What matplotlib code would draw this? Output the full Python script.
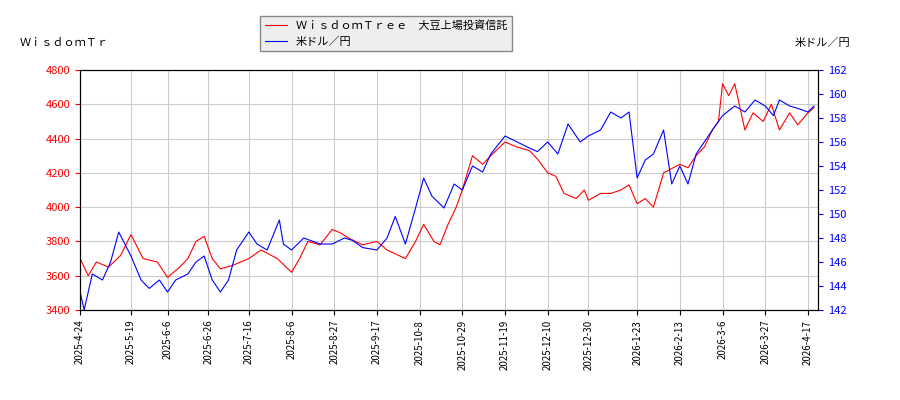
import matplotlib
matplotlib.use("Agg")
import matplotlib.pyplot as plt
import matplotlib.dates as mdates
import pandas as pd

plt.rcParams["font.family"] = ["Noto Sans CJK JP", "DejaVu Sans"]

etf_dates = ["2025-04-24", "2025-04-28", "2025-05-02", "2025-05-08", "2025-05-14", "2025-05-19",
             "2025-05-25", "2025-06-01", "2025-06-06", "2025-06-12", "2025-06-16", "2025-06-20",
             "2025-06-24", "2025-06-28", "2025-07-02", "2025-07-08", "2025-07-16", "2025-07-22",
             "2025-07-30", "2025-08-06", "2025-08-10", "2025-08-14", "2025-08-20", "2025-08-26",
             "2025-08-30", "2025-09-03", "2025-09-10", "2025-09-17", "2025-09-22", "2025-10-01",
             "2025-10-06", "2025-10-10", "2025-10-15", "2025-10-18", "2025-10-22", "2025-10-26",
             "2025-10-29", "2025-11-03", "2025-11-08", "2025-11-12", "2025-11-19", "2025-11-25",
             "2025-12-01", "2025-12-05", "2025-12-10", "2025-12-14", "2025-12-18", "2025-12-24",
             "2025-12-28", "2025-12-30", "2026-01-05", "2026-01-10", "2026-01-15", "2026-01-19",
             "2026-01-23", "2026-01-27", "2026-01-31", "2026-02-05", "2026-02-13", "2026-02-17",
             "2026-02-21", "2026-02-25", "2026-03-01", "2026-03-04", "2026-03-06", "2026-03-09",
             "2026-03-12", "2026-03-17", "2026-03-21", "2026-03-26", "2026-03-30", "2026-04-03",
             "2026-04-08", "2026-04-12", "2026-04-17", "2026-04-20"]
etf_values = [3700, 3600, 3680, 3650, 3720, 3840, 3700, 3680, 3590, 3650, 3700, 3800,
              3830, 3700, 3640, 3660, 3700, 3750, 3700, 3620, 3700, 3800, 3780, 3870,
              3850, 3820, 3780, 3800, 3750, 3700, 3800, 3900, 3800, 3780, 3900, 4000,
              4100, 4300, 4250, 4300, 4380, 4350, 4330, 4280, 4200, 4180, 4080, 4050,
              4100, 4040, 4080, 4080, 4100, 4130, 4020, 4050, 4000, 4200, 4250, 4230,
              4300, 4350, 4450, 4500, 4720, 4650, 4720, 4450, 4550, 4500, 4600, 4450,
              4550, 4480, 4550, 4580]

usd_dates = ["2025-04-24", "2025-04-26", "2025-04-30", "2025-05-05", "2025-05-09", "2025-05-13",
             "2025-05-19", "2025-05-24", "2025-05-28", "2025-06-02", "2025-06-06", "2025-06-10",
             "2025-06-16", "2025-06-20", "2025-06-24", "2025-06-28", "2025-07-02", "2025-07-06",
             "2025-07-10", "2025-07-16", "2025-07-20", "2025-07-25", "2025-07-31", "2025-08-02",
             "2025-08-06", "2025-08-12", "2025-08-20", "2025-08-26", "2025-09-01", "2025-09-05",
             "2025-09-10", "2025-09-17", "2025-09-22", "2025-09-26", "2025-10-01", "2025-10-06",
             "2025-10-10", "2025-10-14", "2025-10-20", "2025-10-25", "2025-10-29", "2025-11-03",
             "2025-11-08", "2025-11-12", "2025-11-19", "2025-11-25", "2025-12-01", "2025-12-05",
             "2025-12-10", "2025-12-15", "2025-12-20", "2025-12-26", "2025-12-30", "2026-01-05",
             "2026-01-10", "2026-01-15", "2026-01-19", "2026-01-23", "2026-01-27", "2026-01-31",
             "2026-02-05", "2026-02-09", "2026-02-13", "2026-02-17", "2026-02-21", "2026-02-25",
             "2026-03-01", "2026-03-06", "2026-03-12", "2026-03-17", "2026-03-22", "2026-03-27",
             "2026-03-31", "2026-04-03", "2026-04-08", "2026-04-12", "2026-04-17", "2026-04-20"]
usd_values = [143.5, 142.0, 145.0, 144.5, 146.0, 148.5, 146.5, 144.5, 143.8, 144.5, 143.5, 144.5,
              145.0, 146.0, 146.5, 144.5, 143.5, 144.5, 147.0, 148.5, 147.5, 147.0, 149.5, 147.5,
              147.0, 148.0, 147.5, 147.5, 148.0, 147.8, 147.2, 147.0, 148.0, 149.8, 147.5, 150.5,
              153.0, 151.5, 150.5, 152.5, 152.0, 154.0, 153.5, 155.0, 156.5, 156.0, 155.5, 155.2,
              156.0, 155.0, 157.5, 156.0, 156.5, 157.0, 158.5, 158.0, 158.5, 153.0, 154.5, 155.0,
              157.0, 152.5, 154.0, 152.5, 155.0, 156.0, 157.0, 158.2, 159.0, 158.5, 159.5, 159.0,
              158.2, 159.5, 159.0, 158.8, 158.5, 159.0]

tick_dates = ["2025-04-24", "2025-05-19", "2025-06-06", "2025-06-26", "2025-07-16", "2025-08-06",
              "2025-08-27", "2025-09-17", "2025-10-08", "2025-10-29", "2025-11-19", "2025-12-10",
              "2025-12-30", "2026-01-23", "2026-02-13", "2026-03-06", "2026-03-27", "2026-04-17"]
usd_ticks = [142, 144, 146, 148, 150, 152, 154, 156, 158, 160, 162]

etf_name = "ＷｉｓｄｏｍＴｒｅｅ　大豆上場投資信託"

fig = plt.figure(figsize=(9, 4), dpi=100)
ax = fig.add_axes([0.089, 0.225, 0.82, 0.6])
ax2 = ax.twinx()

l1, = ax.plot(pd.to_datetime(etf_dates), etf_values, color="red", linewidth=0.8)
l2, = ax2.plot(pd.to_datetime(usd_dates), usd_values, color="blue", linewidth=0.8)

ax.set_ylim(3400, 4800)
ax2.set_ylim(142, 162)
ax2.set_yticks(usd_ticks)
ax.set_xlim(pd.Timestamp("2025-04-24"), pd.Timestamp("2026-04-22"))
ax.set_xticks(pd.to_datetime(tick_dates))
ax.xaxis.set_major_formatter(mdates.DateFormatter("%Y-%-m-%-d"))
ax.tick_params(axis="x", labelrotation=90, labelsize=7)
ax.tick_params(axis="y", colors="red", labelsize=8)
ax2.tick_params(axis="y", colors="blue", labelsize=8)
ax.grid(True, color="#cccccc", linewidth=0.8)

fig.text(0.022, 0.885, "ＷｉｓｄｏｍＴｒ", fontsize=8)
fig.text(0.945, 0.885, "米ドル／円", fontsize=8, ha="right")
fig.legend([l1, l2], [etf_name, "米ドル／円"], loc="upper left",
           bbox_to_anchor=(0.283, 0.975), fontsize=8, fancybox=False,
           edgecolor="#888888", facecolor="#eeeeee", framealpha=1)

fig.savefig("out.png", dpi=100)
